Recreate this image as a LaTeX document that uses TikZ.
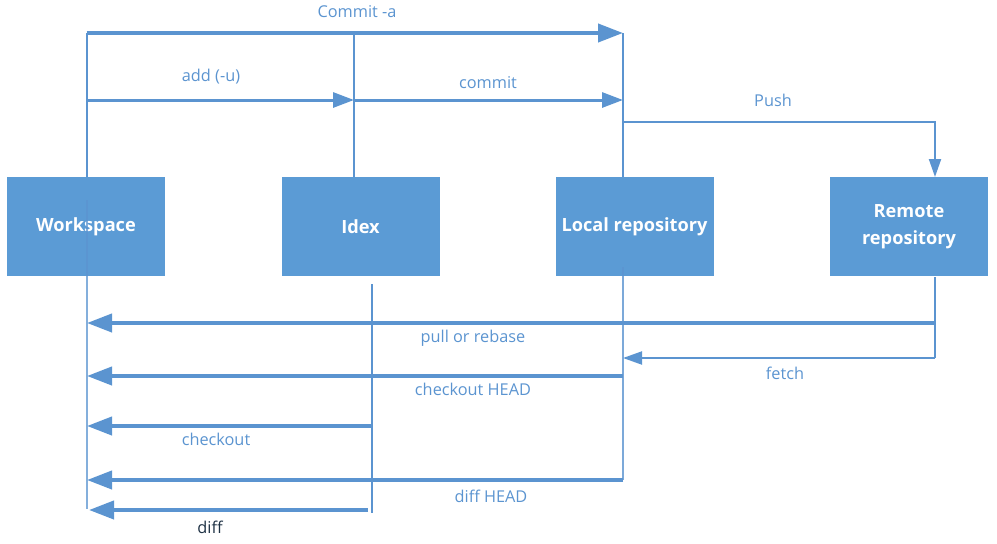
\documentclass[tikz,border=0pt]{standalone}
\usepackage{fontspec}
\setmainfont{Open Sans}
\usetikzlibrary{arrows.meta}
\definecolor{boxblue}{HTML}{5B9BD5}
\definecolor{lineblue}{HTML}{5B94D0}
\definecolor{diffcol}{HTML}{1F3245}
\begin{document}
\begin{tikzpicture}[x=1pt,y=-1pt,
  box/.style={fill=boxblue, minimum width=158pt, minimum height=99pt, inner sep=0pt,
    text=white, font=\bfseries\fontsize{18.2}{26.5}\selectfont, align=center},
  lbl/.style={text=lineblue, font=\fontsize{16.3}{19}\selectfont, inner sep=0pt},
  vline/.style={draw=lineblue, line width=2pt},
  bigarrow/.style={draw=lineblue, line width=4pt, -{Triangle[length=25pt,width=18pt]}},
  midarrow/.style={draw=lineblue, line width=3pt, -{Triangle[length=21pt,width=15pt]}},
  smallarrow/.style={draw=lineblue, line width=2pt, -{Triangle[length=19pt,width=13pt]}},
]
\useasboundingbox (0,0) rectangle (997,544);

% boxes
\node[box] (ws) at (86,226.5) {Workspace};
\node[box] (ix) at (360.5,226.5) {Idex};
\node[box] (lr) at (634.5,226.5) {Local repository};
\node[box] (rr) at (909,226.5) {Remote\\repository};

% coordinates
\coordinate (wtop) at (86.5,33);
\coordinate (itop) at (354,33);
\coordinate (ltop) at (623,33);
\coordinate (wadd) at (86.5,100);
\coordinate (iadd) at (354,100);
\coordinate (ladd) at (623,100);
\coordinate (lpush) at (623,122);
\coordinate (rpush) at (935,122);
\coordinate (rtop) at (935,177);
\coordinate (wmid) at (86.5,200);
\coordinate (wbot) at (86.5,509);
\coordinate (lmid) at (623,267);
\coordinate (lbot) at (623,480);
\coordinate (itop2) at (372,284);
\coordinate (ibot) at (372,513);
\coordinate (rbot) at (935,277);
\coordinate (rfetch) at (935,358);
\coordinate (rpull) at (935,323);
\coordinate (wpull) at (87,323);
\coordinate (lfetch) at (623,358);
\coordinate (lco) at (623,376);
\coordinate (wco) at (87,376);
\coordinate (ico) at (372,426);
\coordinate (wco2) at (87,426);
\coordinate (ldh) at (623,480);
\coordinate (wdh) at (87,480);
\coordinate (idf) at (368,510);
\coordinate (wdf) at (89,510);

% vertical lines
\draw[vline] (wtop) -- (ws.north -| wtop);
\draw[vline, draw opacity=0.75] (wmid) -- (wbot);
\draw[vline] (itop) -- (ix.north -| itop);
\draw[vline] (ltop) -- (lr.north -| ltop);
\draw[vline, draw opacity=0.8] (lmid) -- (lbot);
\draw[vline] (itop2) -- (ibot);
\draw[vline] (rbot) -- (rfetch);

% top arrows
\draw[bigarrow] (wtop) -- (ltop);
\draw[midarrow] (wadd) -- (iadd);
\draw[midarrow] (iadd) -- (ladd);
\draw[smallarrow, -{Triangle[length=18pt,width=12pt]}] (lpush) -- (rpush) -- (rtop);

% bottom arrows
\draw[bigarrow] (rpull) -- (wpull);
\draw[smallarrow] (rfetch) -- (lfetch);
\draw[bigarrow] (lco) -- (wco);
\draw[bigarrow] (ico) -- (wco2);
\draw[bigarrow] (ldh) -- (wdh);
\draw[bigarrow] (idf) -- (wdf);

% labels
\node[lbl] (tca) at (357,12) {Commit -a};
\node[lbl] (tadd) at (211,77) {add (-u)};
\node[lbl] (tcm) at (488,83) {commit};
\node[lbl] (tpush) at (773,100) {Push};
\node[lbl] (tpull) at (473,338) {pull or rebase};
\node[lbl] (tfetch) at (785,373) {fetch};
\node[lbl] (tcoh) at (473,389) {checkout HEAD};
\node[lbl] (tco) at (216,439) {checkout};
\node[lbl] (tdh) at (491,496) {diff HEAD};
\node[lbl, text=diffcol] (tdf) at (210,527) {diff};
\end{tikzpicture}
\end{document}
